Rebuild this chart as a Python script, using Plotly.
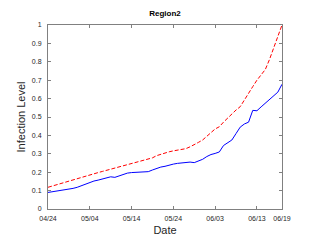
import plotly.graph_objects as go
import pandas as pd

start_date = "2020-04-24"
end_date = "2020-06-19"
dates = pd.date_range(start_date, end_date, freq="D")

observed = [0.090, 0.093, 0.096, 0.100, 0.104, 0.108, 0.112, 0.118, 0.127, 0.135,
            0.145, 0.152, 0.157, 0.162, 0.168, 0.175, 0.172, 0.180, 0.190, 0.195,
            0.198, 0.199, 0.200, 0.201, 0.203, 0.212, 0.222, 0.228, 0.232, 0.240,
            0.244, 0.248, 0.251, 0.254, 0.255, 0.252, 0.262, 0.270, 0.285, 0.296,
            0.302, 0.310, 0.345, 0.362, 0.375, 0.410, 0.445, 0.462, 0.472, 0.536,
            0.534, 0.555, 0.575, 0.590, 0.612, 0.635, 0.678]

upper = [0.118, 0.125, 0.132, 0.138, 0.145, 0.152, 0.160, 0.167, 0.174, 0.181,
         0.187, 0.192, 0.198, 0.204, 0.210, 0.216, 0.221, 0.228, 0.235, 0.241,
         0.247, 0.254, 0.260, 0.266, 0.271, 0.278, 0.290, 0.298, 0.305, 0.311,
         0.316, 0.319, 0.322, 0.328, 0.338, 0.348, 0.362, 0.375, 0.393, 0.415,
         0.435, 0.447, 0.472, 0.495, 0.518, 0.538, 0.556, 0.590, 0.625, 0.665,
         0.700, 0.728, 0.758, 0.812, 0.875, 0.938, 1.000]

tick_dates = ["2020-04-24", "2020-05-04", "2020-05-14", "2020-05-24",
              "2020-06-03", "2020-06-13", "2020-06-19"]
tick_labels = ["04/24", "05/04", "05/14", "05/24", "06/03", "06/13", "06/19"]

y_ticks = [0, 0.1, 0.2, 0.3, 0.4, 0.5, 0.6, 0.7, 0.8, 0.9, 1]
y_labels = ["0", "0.1", "0.2", "0.3", "0.4", "0.5", "0.6", "0.7", "0.8", "0.9", "1"]

fig = go.Figure()
fig.add_trace(go.Scatter(x=dates, y=observed, mode="lines",
                         line=dict(color="#0000ff", width=1), showlegend=False))
fig.add_trace(go.Scatter(x=dates, y=upper, mode="lines",
                         line=dict(color="#ff0000", width=1, dash="4px,2px"), showlegend=False))

font = "Liberation Sans, Arial, sans-serif"
axis_common = dict(showline=True, linecolor="#808080", linewidth=1, mirror="ticks",
                   ticks="inside", ticklen=3, tickcolor="#808080", showgrid=False,
                   zeroline=False, tickfont=dict(family=font, size=7, color="#262626"))

fig.update_layout(
    width=319, height=245,
    margin=dict(l=48, r=37, t=25, b=36),
    paper_bgcolor="white", plot_bgcolor="white",
    title=dict(text="<b>Region2</b>", x=(48 + 282) / 2 / 319, xanchor="center",
               y=1 - 13 / 245, yanchor="middle",
               font=dict(family=font, size=8, color="black")),
    xaxis=dict(range=[dates[0], dates[-1]], tickvals=tick_dates, ticktext=tick_labels,
               ticklabelstandoff=3,
               title=dict(text="Date", font=dict(family=font, size=11, color="#262626"), standoff=4),
               **axis_common),
    yaxis=dict(range=[0, 1], tickvals=y_ticks, ticktext=y_labels,
               ticklabelstandoff=4,
               title=dict(text="Infection Level", font=dict(family=font, size=11, color="#262626"), standoff=4),
               **axis_common),
)

fig.write_html("out.html", config={"displayModeBar": False},
               post_script="document.body.style.margin='0';")
